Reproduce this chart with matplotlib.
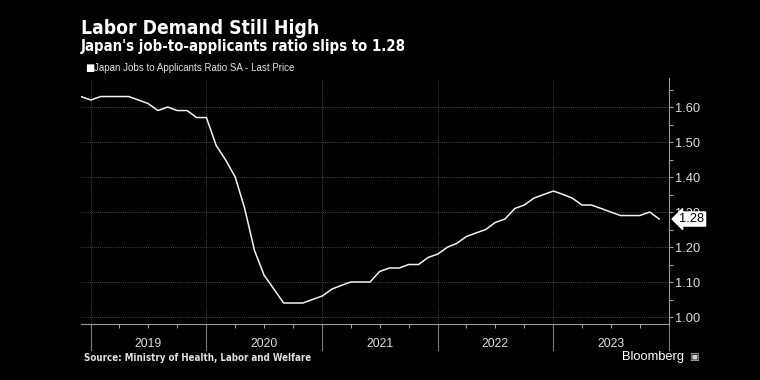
import matplotlib
matplotlib.use("Agg")
import matplotlib.pyplot as plt
import matplotlib.dates as mdates
import matplotlib.transforms as mtransforms
import pandas as pd
import numpy as np

# ---- data ----
months = pd.date_range("2018-12-01", periods=61, freq="MS")
ratio = [1.63, 1.62, 1.63, 1.63, 1.63, 1.63, 1.62, 1.61, 1.59, 1.60,
         1.59, 1.59, 1.57, 1.57, 1.49, 1.45, 1.40, 1.31, 1.19, 1.12,
         1.08, 1.04, 1.04, 1.04, 1.05, 1.06, 1.08, 1.09, 1.10, 1.10,
         1.10, 1.13, 1.14, 1.14, 1.15, 1.15, 1.17, 1.18, 1.20, 1.21,
         1.23, 1.24, 1.25, 1.27, 1.28, 1.31, 1.32, 1.34, 1.35, 1.36,
         1.35, 1.34, 1.32, 1.32, 1.31, 1.30, 1.29, 1.29, 1.29, 1.30,
         1.28]
years = [2019, 2020, 2021, 2022, 2023]
y_ticks = [1.00, 1.10, 1.20, 1.30, 1.40, 1.50, 1.60]
title = "Labor Demand Still High"
subtitle = "Japan's job-to-applicants ratio slips to 1.28"
legend_label = "Japan Jobs to Applicants Ratio SA - Last Price"
source = "Source: Ministry of Health, Labor and Welfare"

W, H = 760, 380
fig = plt.figure(figsize=(W / 100, H / 100), dpi=100, facecolor="black")
L, R, T, B = 81, 669, 78, 324
ax = fig.add_axes([L / W, 1 - B / H, (R - L) / W, (B - T) / H], facecolor="black")

ax.plot(months, ratio, color="#f2f2f2", lw=1.1, solid_joinstyle="round", zorder=3)

ax.set_xlim(pd.Timestamp("2018-12-01"), pd.Timestamp("2024-01-01"))
ax.set_ylim(0.98, 1.683)

# spines
for s in ["top", "left"]:
    ax.spines[s].set_visible(False)
for s in ["right", "bottom"]:
    ax.spines[s].set_color("#9a9a9a")
    ax.spines[s].set_linewidth(0.8)

# y axis on right
ax.yaxis.tick_right()
ax.set_yticks(y_ticks)
ax.set_yticklabels([f"{v:.2f}" for v in y_ticks])
ax.set_yticks(np.arange(1.05, 1.66, 0.1), minor=True)
ax.tick_params(axis="y", which="both", colors="#9a9a9a", length=3, width=0.8,
               labelcolor="#dcdcdc", pad=1)
for lab in ax.get_yticklabels():
    lab.set_family("Liberation Sans")
    lab.set_fontsize(9.3)

# horizontal dotted grid
for v in y_ticks:
    ax.axhline(v, color="#5a5a5a", lw=0.6, ls=(0, (1, 1.5)), zorder=0)

# x axis: quarter ticks, no labels
ax.xaxis.set_major_locator(mdates.MonthLocator(bymonth=[1, 4, 7, 10]))
ax.xaxis.set_major_formatter(plt.NullFormatter())
ax.tick_params(axis="x", which="both", colors="#9a9a9a", length=3, width=0.8)

trans = mtransforms.blended_transform_factory(ax.transData, ax.transAxes)
ybot = -(350 - B) / (B - T)
for yr in years + [2024]:
    d = mdates.date2num(pd.Timestamp(f"{yr}-01-01"))
    ax.plot([d, d], [0, 1], transform=trans, color="#5a5a5a", lw=0.6,
            ls=(0, (1, 1.5)), zorder=0, clip_on=False)
    ax.plot([d, d], [ybot, 0], transform=trans, color="#7a7a7a", lw=0.8,
            clip_on=False)
for yr in years:
    d = mdates.date2num(pd.Timestamp(f"{yr}-07-01"))
    ax.text(d, -(344 - B) / (B - T), str(yr), transform=trans, color="#dcdcdc",
            ha="center", va="center", fontsize=8.8, family="Liberation Sans")

# last value tag
ax.annotate(f"{ratio[-1]:.2f}", xy=(1.0, ratio[-1]), xycoords=("axes fraction", "data"),
            xytext=(7.5, 0), textcoords="offset points", ha="left", va="center",
            fontsize=9.3, color="black", family="Liberation Sans",
            bbox=dict(boxstyle="larrow,pad=0.08", fc="white", ec="white"),
            annotation_clip=False, zorder=5)

# titles
fig.text(81 / W, 1 - 28 / H, title, color="white", fontsize=13.9, fontweight="bold",
         va="center", ha="left", family="DejaVu Sans", fontstretch="condensed")
fig.text(81 / W, 1 - 47 / H, subtitle, color="white", fontsize=10.7, fontweight="bold",
         va="center", ha="left", family="DejaVu Sans", fontstretch="condensed")
fig.text(85 / W, 1 - 68 / H, "\u25A0", color="white", fontsize=7, va="center", ha="left",
         family="DejaVu Sans")
fig.text(94 / W, 1 - 68 / H, legend_label, color="#e0e0e0", fontsize=7.0, va="center",
         ha="left", family="Liberation Sans")
fig.text(84 / W, 1 - 358 / H, source, color="#e0e0e0", fontsize=7.0, fontweight="bold",
         va="center", ha="left", family="DejaVu Sans", fontstretch="condensed")
fig.text(684 / W, 1 - 357 / H, "Bloomberg", color="white", fontsize=9.3, va="center",
         ha="right", family="Liberation Sans")
fig.text(689 / W, 1 - 357 / H, "\u25A3", color="#cfcfcf", fontsize=7.5, va="center",
         ha="left", family="DejaVu Sans")

fig.savefig("out.png", dpi=100, facecolor="black")
